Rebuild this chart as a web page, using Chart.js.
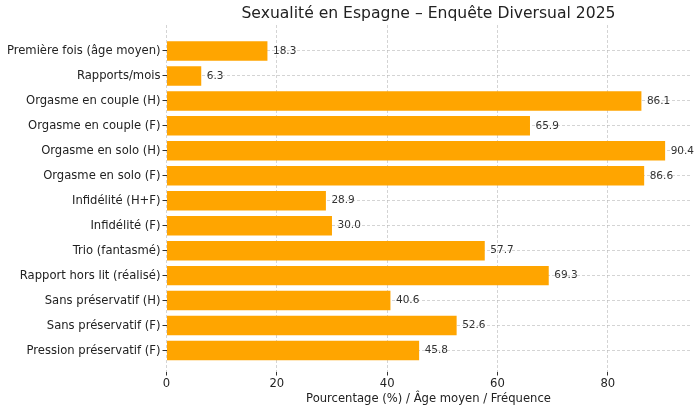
<!DOCTYPE html>
<html>
<head>
<meta charset="utf-8">
<script src="https://cdn.jsdelivr.net/npm/chart.js@4/dist/chart.umd.min.js"></script>
<style>
  html, body { margin: 0; padding: 0; background: #fff; }
  #wrap { width: 700px; height: 416px; }
</style>
</head>
<body>
<div id="wrap"><canvas id="chart" width="700" height="416"></canvas></div>
<script>
const title = 'Sexualité en Espagne – Enquête Diversual 2025';
const xTitle = 'Pourcentage (%) / Âge moyen / Fréquence';

const categories = [
  'Première fois (âge moyen)',
  'Rapports/mois',
  'Orgasme en couple (H)',
  'Orgasme en couple (F)',
  'Orgasme en solo (H)',
  'Orgasme en solo (F)',
  'Infidélité (H+F)',
  'Infidélité (F)',
  'Trio (fantasmé)',
  'Rapport hors lit (réalisé)',
  'Sans préservatif (H)',
  'Sans préservatif (F)',
  'Pression préservatif (F)'
];
const values = [18.3, 6.3, 86.1, 65.9, 90.4, 86.6, 28.9, 30.0, 57.7, 69.3, 40.6, 52.6, 45.8];
const xTicks = [0, 20, 40, 60, 80];

const FONT = "'DejaVu Sans', sans-serif";
const gridColor = 'rgba(176,176,176,0.55)';

// value labels at the end of each bar + title over the plot area
const labelPlugin = {
  id: 'barLabels',
  afterDraw(chart) {
    const ctx = chart.ctx;
    const xs = chart.scales.x, ys = chart.scales.y;
    ctx.save();
    ctx.font = '10.5px ' + FONT;
    ctx.fillStyle = '#333';
    ctx.textAlign = 'left';
    ctx.textBaseline = 'middle';
    values.forEach((v, i) => {
      ctx.fillText(v.toFixed(1), xs.getPixelForValue(v + 1), ys.getPixelForValue(i));
    });
    const area = chart.chartArea;
    ctx.font = '15.6px ' + FONT;
    ctx.fillStyle = '#222';
    ctx.textAlign = 'center';
    ctx.textBaseline = 'middle';
    ctx.fillText(title, (area.left + area.right) / 2, 14);
    ctx.restore();
  }
};

new Chart(document.getElementById('chart'), {
  type: 'bar',
  data: {
    datasets: [{
      data: values.map((v, i) => ({ x: v, y: i })),
      backgroundColor: '#FFA500',
      borderWidth: 0,
      categoryPercentage: 1,
      barPercentage: 0.78
    }]
  },
  options: {
    indexAxis: 'y',
    responsive: false,
    animation: false,
    devicePixelRatio: 1,
    layout: { padding: { top: 25, right: 9.5, left: 0, bottom: 0 } },
    plugins: {
      legend: { display: false },
      tooltip: { enabled: false }
    },
    scales: {
      x: {
        type: 'linear',
        min: 0,
        max: 95,
        z: 1,
        offset: false,
        afterBuildTicks: s => { s.ticks = xTicks.map(v => ({ value: v })); },
        afterFit: s => { s.height = 44.5; },
        border: { display: false, dash: [3, 2] },
        grid: {
          offset: false,
          color: gridColor,
          tickColor: '#333',
          tickLength: 4,
          tickBorderDash: []
        },
        ticks: {
          color: '#222',
          padding: 2,
          font: { family: FONT, size: 11.6 }
        },
        title: {
          display: true,
          text: xTitle,
          color: '#222',
          font: { family: FONT, size: 11.6 },
          padding: { top: 0, bottom: 10 }
        }
      },
      y: {
        type: 'linear',
        reverse: true,
        min: -1.04,
        max: 12.84,
        z: 1,
        offset: false,
        afterBuildTicks: s => { s.ticks = categories.map((c, i) => ({ value: i })); },
        afterFit: s => { s.width = 166.5; },
        border: { display: false, dash: [3, 2] },
        grid: {
          offset: false,
          color: gridColor,
          tickColor: '#333',
          tickLength: 4,
          tickBorderDash: []
        },
        ticks: {
          color: '#222',
          padding: 2,
          autoSkip: false,
          font: { family: FONT, size: 11.6 },
          callback: v => categories[v]
        }
      }
    }
  },
  plugins: [labelPlugin]
});
</script>
</body>
</html>
